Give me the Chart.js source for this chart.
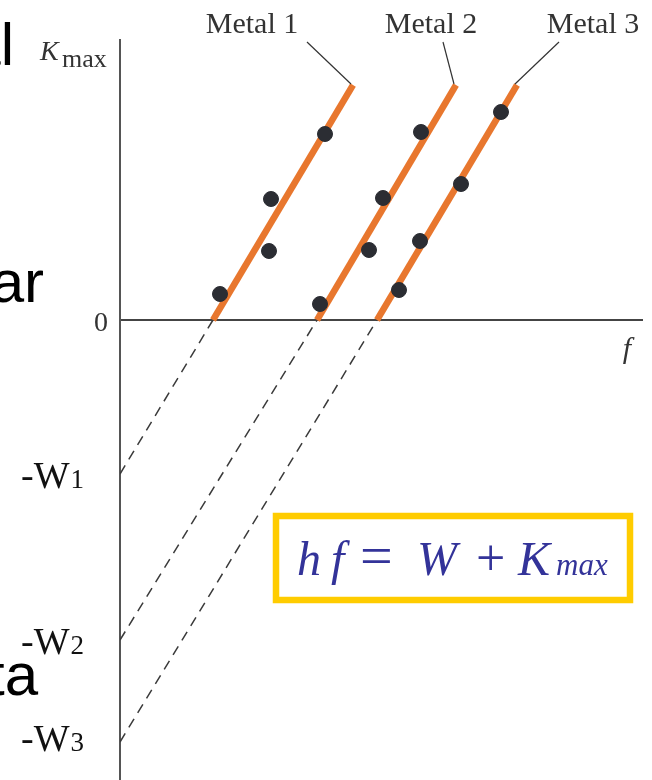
<!DOCTYPE html>
<html>
<head>
<meta charset="utf-8">
<script src="https://cdn.jsdelivr.net/npm/chart.js@4"></script>
<style>
  body { margin: 0; background: #fff; }
  #wrap { position: relative; width: 652px; height: 780px; }
</style>
</head>
<body>
<div id="wrap"><canvas id="photoChart"></canvas></div>
<script>
// datos (unidades arbitrarias: f y Kmax)
const metals = ['Metal 1', 'Metal 2', 'Metal 3'];
const freq1 = [10.0, 14.9, 15.1, 20.5];
const kmax1 = [2.6, 6.9, 12.1, 18.6];
const freq2 = [20.0, 24.9, 26.3, 30.1];
const kmax2 = [1.6, 7.0, 12.2, 18.8];
const freq3 = [27.9, 30.0, 34.1, 38.1];
const kmax3 = [3.0, 7.9, 13.6, 20.8];
const cutoffFreq = [9.3, 19.7, 25.7];     // Kmax = 0
const topFreq = [23.3, 33.6, 39.7];       // extremo superior de la recta
const topKmax = 23.5;
const workFunction = [15.4, 32.0, 42.2];  // -W en f = 0
const wLabels = ['1', '2', '3'];

const toPoints = (xs, ys) => xs.map((x, i) => ({ x: x, y: ys[i] }));

const orange = '#e8772e';
const dot = '#2b2d33';

const datasets = [];
[[freq1, kmax1], [freq2, kmax2], [freq3, kmax3]].forEach(function (d, i) {
    datasets.push({
        label: metals[i],
        data: toPoints(d[0], d[1]),
        backgroundColor: dot,
        borderColor: dot,
        pointRadius: 7.5,
        order: 0
    });
});
metals.forEach(function (m, i) {
    datasets.push({
        label: m + ' ajuste',
        data: [{ x: cutoffFreq[i], y: 0 }, { x: topFreq[i], y: topKmax }],
        showLine: true,
        borderColor: orange,
        borderWidth: 6.5,
        borderCapStyle: 'butt',
        pointRadius: 0,
        order: 1
    });
    datasets.push({
        label: m + ' extrapolación',
        data: [{ x: 0, y: -workFunction[i] }, { x: cutoffFreq[i], y: 0 }],
        showLine: true,
        borderColor: '#3a3a3a',
        borderWidth: 1.5,
        borderDash: [10, 7],
        pointRadius: 0,
        order: 2
    });
});

// textos de la figura
const labelsPlugin = {
    id: 'labels',
    afterDraw(chart) {
        const ctx = chart.ctx;
        const xs = chart.scales.x, ys = chart.scales.y;
        ctx.save();

        // fragmentos de texto de la diapositiva
        ctx.fillStyle = '#000';
        ctx.font = '60px "Liberation Sans"';
        ctx.textAlign = 'right';
        ctx.textBaseline = 'alphabetic';
        ctx.fillText('al', 14, 65);
        ctx.fillText('ar', 44, 302);
        ctx.fillText('ta', 38, 695);

        // etiquetas de los metales y líneas guía
        const labelX = [252, 431, 593];
        const leadStart = [[307, 42], [443, 42], [559, 42]];
        ctx.textAlign = 'center';
        ctx.fillStyle = '#333';
        ctx.font = '30px "Liberation Serif"';
        metals.forEach(function (m, i) {
            ctx.fillText(m, labelX[i], 33);
            ctx.strokeStyle = '#333';
            ctx.lineWidth = 1.2;
            ctx.beginPath();
            ctx.moveTo(leadStart[i][0], leadStart[i][1]);
            ctx.lineTo(xs.getPixelForValue(topFreq[i]) - 2, ys.getPixelForValue(topKmax) - 1);
            ctx.stroke();
        });

        // Kmax
        ctx.textAlign = 'left';
        ctx.font = 'italic 28px "Liberation Serif"';
        ctx.fillText('K', 40, 60);
        ctx.font = '26px "Liberation Serif"';
        ctx.fillText('max', 62, 67);

        // f
        ctx.textAlign = 'center';
        ctx.font = 'italic 30px "Liberation Serif"';
        ctx.fillText('f', 627, 358);

        // 0
        ctx.textAlign = 'right';
        ctx.font = '28px "Liberation Serif"';
        ctx.fillText('0', 108, ys.getPixelForValue(0) + 11);

        // -W1, -W2, -W3
        const wOffset = [14, 14, 9];
        ctx.textAlign = 'left';
        ctx.fillStyle = '#111';
        workFunction.forEach(function (w, i) {
            const py = ys.getPixelForValue(-w) + wOffset[i];
            ctx.font = '38px "Liberation Serif"';
            ctx.fillText('-W', 21, py);
            const wd = ctx.measureText('-W').width;
            ctx.font = '27px "Liberation Serif"';
            ctx.fillText(wLabels[i], 21 + wd + 1, py);
        });

        // recuadro con la ecuación
        ctx.strokeStyle = '#ffcc00';
        ctx.lineWidth = 6.5;
        ctx.strokeRect(276, 516, 354, 84);
        const parts = [
            ['h', 'italic 48px', 297], ['f', 'italic 48px', 331], ['=', '58px', 360],
            ['W', 'italic 48px', 417], ['+', '52px', 476], ['K', 'italic 48px', 518],
            ['max', 'italic 31px', 556]
        ];
        ctx.fillStyle = '#333399';
        parts.forEach(function (p) {
            ctx.font = p[1] + ' "Liberation Serif"';
            ctx.fillText(p[0], p[2], 575);
        });

        ctx.restore();
    }
};

new Chart(document.getElementById('photoChart').getContext('2d'), {
    type: 'scatter',
    data: { datasets: datasets },
    options: {
        responsive: true,
        maintainAspectRatio: false,
        animation: false,
        layout: { autoPadding: false, padding: { left: 120, top: 40, right: 10, bottom: 0 } },
        plugins: { legend: { display: false }, tooltip: { enabled: false } },
        scales: {
            x: {
                type: 'linear',
                min: 0,
                max: 52.2,
                position: { y: 0 },
                ticks: { display: false },
                grid: { display: false, drawTicks: false },
                border: { display: true, color: '#444', width: 2 }
            },
            y: {
                type: 'linear',
                min: -46,
                max: 28,
                ticks: { display: false },
                grid: { display: false, drawTicks: false },
                border: { display: true, color: '#555', width: 2 }
            }
        }
    },
    plugins: [labelsPlugin]
});
</script>
</body>
</html>
